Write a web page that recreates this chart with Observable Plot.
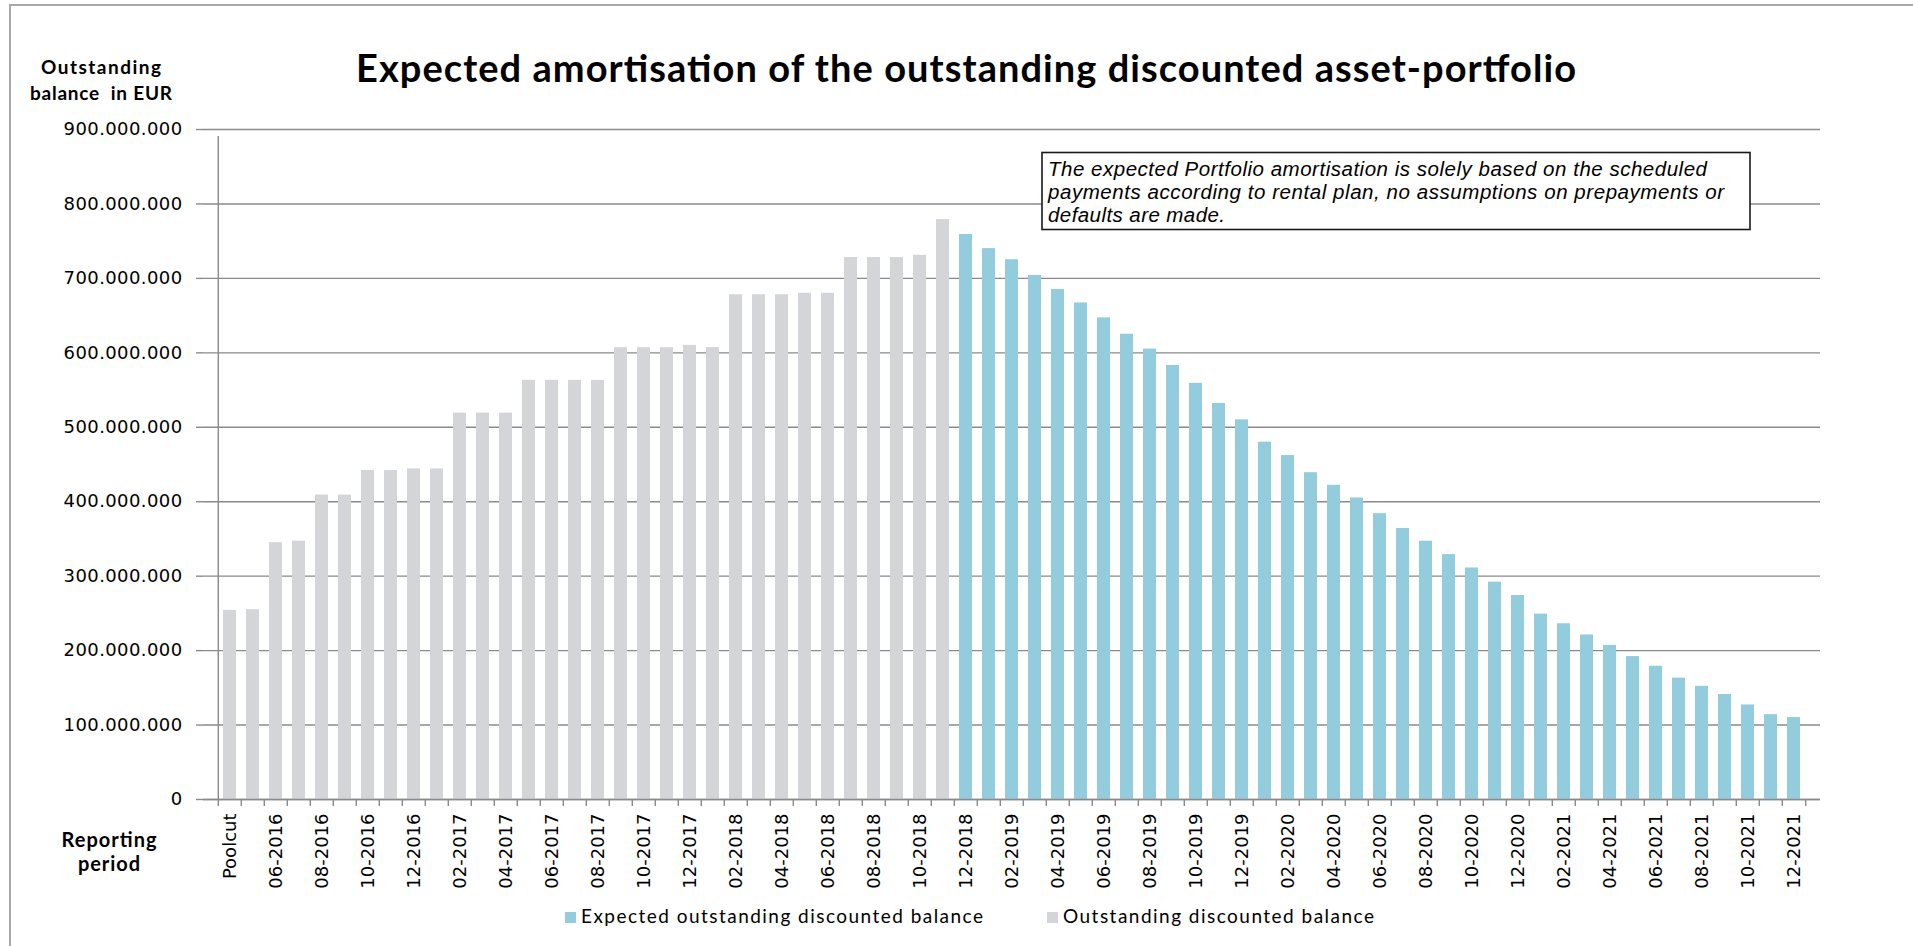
<!DOCTYPE html>
<html>
<head>
<meta charset="utf-8">
<script src="https://cdn.jsdelivr.net/npm/d3@7"></script>
<script src="https://cdn.jsdelivr.net/npm/@observablehq/plot@0.6"></script>
<style>
html, body { margin: 0; padding: 0; background: #fff; }
#wrap { position: relative; width: 1913px; height: 946px; overflow: hidden; background: #fff; }
#wrap > svg { position: absolute; left: 0; top: 0; }
#border { position: absolute; left: 9px; top: 4px; width: 1910px; height: 950px; border-top: 2px solid #a8a8a8; border-left: 2px solid #a8a8a8; box-sizing: border-box; }
</style>
</head>
<body>
<div id="wrap"><div id="border"></div></div>
<script>
// ---------- data ----------
const periods = [
  "Poolcut","05-2016","06-2016","07-2016","08-2016","09-2016","10-2016","11-2016","12-2016",
  "01-2017","02-2017","03-2017","04-2017","05-2017","06-2017","07-2017","08-2017","09-2017","10-2017","11-2017","12-2017",
  "01-2018","02-2018","03-2018","04-2018","05-2018","06-2018","07-2018","08-2018","09-2018","10-2018","11-2018","12-2018",
  "01-2019","02-2019","03-2019","04-2019","05-2019","06-2019","07-2019","08-2019","09-2019","10-2019","11-2019","12-2019",
  "01-2020","02-2020","03-2020","04-2020","05-2020","06-2020","07-2020","08-2020","09-2020","10-2020","11-2020","12-2020",
  "01-2021","02-2021","03-2021","04-2021","05-2021","06-2021","07-2021","08-2021","09-2021","10-2021","11-2021","12-2021"
];
// Outstanding discounted balance (actual), EUR millions: Poolcut .. 11-2018
const outstandingBalance = [
  254, 255, 345, 347, 409, 409, 442, 442, 444, 444,
  519, 519, 519, 563, 563, 563, 563, 607, 607, 607,
  610, 607, 678, 678, 678, 680, 680, 728, 728, 728,
  731, 779
];
// Expected outstanding discounted balance, EUR millions: 12-2018 .. 12-2021
const expectedBalance = [
  759, 740, 725, 704, 685, 667, 647, 625, 605, 583,
  559, 532, 510, 480, 462, 439, 422, 405, 384, 364,
  347, 329, 311, 292, 274, 249, 236, 221, 207, 192,
  179, 163, 152, 141, 127, 114, 110
];
const yTicks = [0, 100e6, 200e6, 300e6, 400e6, 500e6, 600e6, 700e6, 800e6, 900e6];
const seriesNames = ["Expected outstanding discounted balance", "Outstanding discounted balance"];
const seriesColors = ["#93cddd", "#d4d5d9"];
const titleText = "Expected amortisation of the outstanding discounted asset-portfolio";
const yTitleLines = ["Outstanding", "balance  in EUR"];
const xTitleLines = ["Reporting", "period"];
const noteLines = [
  "The expected Portfolio amortisation is solely based on the scheduled",
  "payments according to rental plan, no assumptions on prepayments or",
  "defaults are made."
];

// ---------- table ----------
const rows = periods.map((p, i) => i < outstandingBalance.length
  ? {period: p, value: outstandingBalance[i] * 1e6, series: seriesNames[1]}
  : {period: p, value: expectedBalance[i - outstandingBalance.length] * 1e6, series: seriesNames[0]});

// ---------- layout ----------
const W = 1913, H = 946;
const mL = 203, mR = 93, mT = 129, mB = 147;
const step = (W - mL - mR) / periods.length;
const gridColor = "#8a8a8a";
const fmt = d3.formatLocale({decimal: ",", thousands: ".", grouping: [3], currency: ["", ""]}).format(",");

const chart = Plot.plot({
  width: W, height: H,
  marginLeft: mL, marginRight: mR, marginTop: mT, marginBottom: mB,
  style: {fontFamily: "'DejaVu Sans', Verdana, sans-serif", fontSize: "18px", color: "#000", background: "transparent", overflow: "visible"},
  x: {domain: periods, paddingInner: 0.44, paddingOuter: 0.22, align: 0.5},
  y: {domain: [0, 900e6]},
  color: {domain: seriesNames, range: seriesColors},
  marks: [
    Plot.gridY(yTicks, {stroke: gridColor, strokeOpacity: 1, strokeWidth: 1.4}),
    Plot.barY(rows, {x: "period", y: "value", fill: "series"}),
    Plot.axisY(yTicks, {tickSize: 7, tickPadding: 14, tickFormat: fmt, stroke: gridColor, strokeWidth: 1.4, fill: "#000", label: null}),
    Plot.axisX(periods.filter((d, i) => i % 2 === 0), {tickSize: 0, tickRotate: -90, tickPadding: 14, fill: "#000", label: null}),
    // y axis line
    Plot.ruleX(periods.slice(0, 1), {x: d => d, y1: d => 0, y2: d => 900e6, dx: -step / 2, insetBottom: -7, stroke: gridColor, strokeWidth: 1.4}),
    // category boundary ticks
    Plot.ruleX(periods, {x: d => d, y1: d => 0, y2: d => 0, insetBottom: -7, dx: -step / 2, stroke: gridColor, strokeWidth: 1.4}),
    Plot.ruleX(periods.slice(-1), {x: d => d, y1: d => 0, y2: d => 0, insetBottom: -7, dx: step / 2, stroke: gridColor, strokeWidth: 1.4}),
    Plot.ruleY([0], {stroke: gridColor, strokeWidth: 1.4})
  ]
});
d3.select(chart).selectAll('g[aria-label="y-axis tick label"] text').style("letter-spacing", "0.4px");
document.getElementById("wrap").appendChild(chart);

// ---------- overlay texts: title, axis titles, note, legend ----------
const ov = d3.select("#wrap").append("svg")
  .attr("width", W).attr("height", H)
  .style("pointer-events", "none");

ov.append("text").text(titleText)
  .attr("x", 966).attr("y", 82).attr("text-anchor", "middle")
  .attr("textLength", 1220).attr("lengthAdjust", "spacing")
  .style("font-family", "Lato, sans-serif").style("font-weight", 700).style("font-size", "38px").attr("fill", "#000");

const yT = [[73.5, 120], [100, 142]];
yTitleLines.forEach((t, i) => ov.append("text").text(t)
  .attr("x", 101).attr("y", yT[i][0]).attr("text-anchor", "middle")
  .attr("textLength", yT[i][1]).attr("lengthAdjust", "spacing")
  .style("font-family", "Lato, sans-serif").style("font-weight", 700).style("font-size", "19px").style("white-space", "pre").attr("fill", "#000"));

const xT = [[846.5, 95], [871, 62]];
xTitleLines.forEach((t, i) => ov.append("text").text(t)
  .attr("x", 109).attr("y", xT[i][0]).attr("text-anchor", "middle")
  .attr("textLength", xT[i][1]).attr("lengthAdjust", "spacing")
  .style("font-family", "Lato, sans-serif").style("font-weight", 700).style("font-size", "20px").attr("fill", "#000"));

// annotation box
ov.append("rect").attr("x", 1042).attr("y", 152.5).attr("width", 708).attr("height", 77)
  .attr("fill", "#fff").attr("stroke", "#1a1a1a").attr("stroke-width", 1.6);
const noteW = [659, 676, 177];
noteLines.forEach((t, i) => ov.append("text").text(t)
  .attr("x", 1048).attr("y", 176 + i * 23)
  .attr("textLength", noteW[i]).attr("lengthAdjust", "spacing")
  .style("font-family", "'Liberation Sans', Arial, sans-serif").style("font-style", "italic").style("font-size", "20.5px").attr("fill", "#000"));

// legend
const legX = [[565, 581, 402], [1047, 1063, 311]];
seriesNames.forEach((s, i) => {
  ov.append("rect").attr("x", legX[i][0]).attr("y", 912).attr("width", 11).attr("height", 11).attr("fill", seriesColors[i]);
  ov.append("text").text(s).attr("x", legX[i][1]).attr("y", 922.5)
    .attr("textLength", legX[i][2]).attr("lengthAdjust", "spacing")
    .style("font-family", "Lato, sans-serif").style("font-size", "19px").attr("fill", "#000");
});
</script>
</body>
</html>
